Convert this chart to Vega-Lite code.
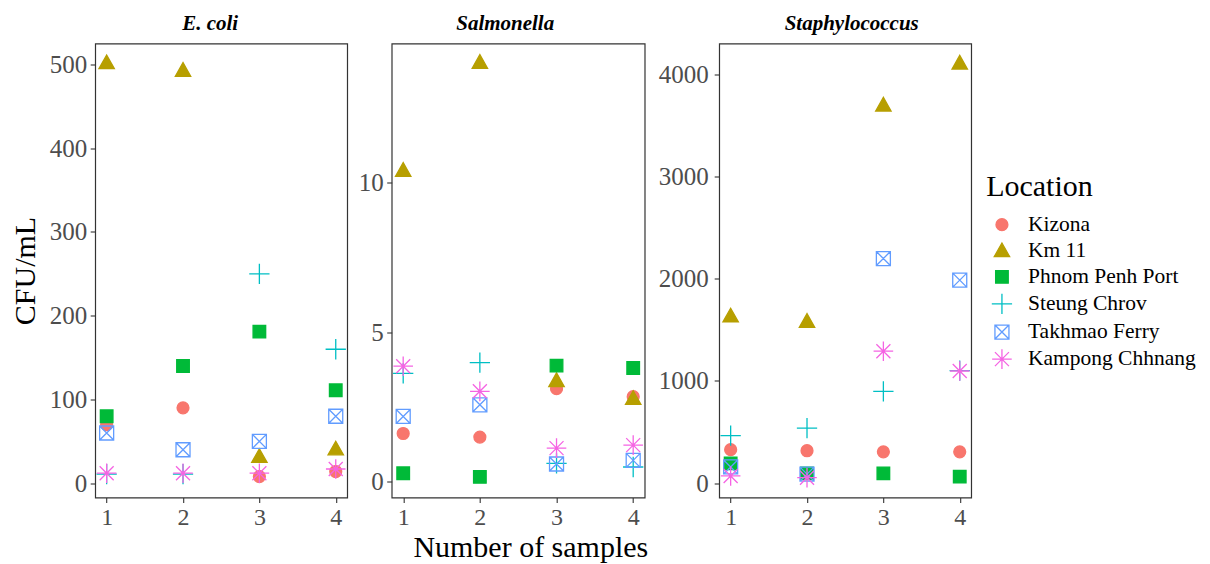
{
  "$schema": "https://vega.github.io/schema/vega-lite/v6.json",
  "background": "white",
  "padding": {"left": 9.2, "top": 11.5, "right": 5, "bottom": 0},
  "spacing": 8.5,
  "config": {
    "font": "Liberation Serif",
    "view": {"stroke": "#333333", "strokeWidth": 1.2},
    "axis": {"grid": false, "domain": false, "tickColor": "#333333", "tickSize": 5, "tickWidth": 1.1, "labelColor": "#4D4D4D", "labelFont": "Liberation Serif", "titleFont": "Liberation Serif", "titleColor": "black", "titleFontWeight": "normal"},
    "legend": {"titleFontSize": 30, "titleFont": "Liberation Serif", "titleFontWeight": "normal", "titleColor": "black", "titlePadding": 12, "labelFontSize": 21.5, "labelColor": "black", "labelFont": "Liberation Serif", "labelLimit": 400, "symbolSize": 196, "symbolStrokeWidth": 1.3, "rowPadding": 3.1, "labelOffset": 15.3, "symbolOffset": 5}
  },
  "data": {"values": [
    {"Organism": "E. coli", "Location": "Kizona", "Sample": 1, "CFU": 70},
    {"Organism": "E. coli", "Location": "Kizona", "Sample": 2, "CFU": 90},
    {"Organism": "E. coli", "Location": "Kizona", "Sample": 3, "CFU": 8},
    {"Organism": "E. coli", "Location": "Kizona", "Sample": 4, "CFU": 14},
    {"Organism": "E. coli", "Location": "Km 11", "Sample": 1, "CFU": 502},
    {"Organism": "E. coli", "Location": "Km 11", "Sample": 2, "CFU": 493},
    {"Organism": "E. coli", "Location": "Km 11", "Sample": 3, "CFU": 32},
    {"Organism": "E. coli", "Location": "Km 11", "Sample": 4, "CFU": 41},
    {"Organism": "E. coli", "Location": "Phnom Penh Port", "Sample": 1, "CFU": 80},
    {"Organism": "E. coli", "Location": "Phnom Penh Port", "Sample": 2, "CFU": 140},
    {"Organism": "E. coli", "Location": "Phnom Penh Port", "Sample": 3, "CFU": 181},
    {"Organism": "E. coli", "Location": "Phnom Penh Port", "Sample": 4, "CFU": 111},
    {"Organism": "E. coli", "Location": "Steung Chrov", "Sample": 1, "CFU": 11},
    {"Organism": "E. coli", "Location": "Steung Chrov", "Sample": 2, "CFU": 11},
    {"Organism": "E. coli", "Location": "Steung Chrov", "Sample": 3, "CFU": 250},
    {"Organism": "E. coli", "Location": "Steung Chrov", "Sample": 4, "CFU": 160},
    {"Organism": "E. coli", "Location": "Takhmao Ferry", "Sample": 1, "CFU": 60},
    {"Organism": "E. coli", "Location": "Takhmao Ferry", "Sample": 2, "CFU": 40},
    {"Organism": "E. coli", "Location": "Takhmao Ferry", "Sample": 3, "CFU": 50},
    {"Organism": "E. coli", "Location": "Takhmao Ferry", "Sample": 4, "CFU": 80},
    {"Organism": "E. coli", "Location": "Kampong Chhnang", "Sample": 1, "CFU": 12},
    {"Organism": "E. coli", "Location": "Kampong Chhnang", "Sample": 2, "CFU": 12},
    {"Organism": "E. coli", "Location": "Kampong Chhnang", "Sample": 3, "CFU": 12},
    {"Organism": "E. coli", "Location": "Kampong Chhnang", "Sample": 4, "CFU": 17},
    {"Organism": "Salmonella", "Location": "Kizona", "Sample": 1, "CFU": 1.62},
    {"Organism": "Salmonella", "Location": "Kizona", "Sample": 2, "CFU": 1.5},
    {"Organism": "Salmonella", "Location": "Kizona", "Sample": 3, "CFU": 3.12},
    {"Organism": "Salmonella", "Location": "Kizona", "Sample": 4, "CFU": 2.85},
    {"Organism": "Salmonella", "Location": "Km 11", "Sample": 1, "CFU": 10.42},
    {"Organism": "Salmonella", "Location": "Km 11", "Sample": 2, "CFU": 14.03},
    {"Organism": "Salmonella", "Location": "Km 11", "Sample": 3, "CFU": 3.39},
    {"Organism": "Salmonella", "Location": "Km 11", "Sample": 4, "CFU": 2.79},
    {"Organism": "Salmonella", "Location": "Phnom Penh Port", "Sample": 1, "CFU": 0.29},
    {"Organism": "Salmonella", "Location": "Phnom Penh Port", "Sample": 2, "CFU": 0.17},
    {"Organism": "Salmonella", "Location": "Phnom Penh Port", "Sample": 3, "CFU": 3.89},
    {"Organism": "Salmonella", "Location": "Phnom Penh Port", "Sample": 4, "CFU": 3.81},
    {"Organism": "Salmonella", "Location": "Steung Chrov", "Sample": 1, "CFU": 3.63},
    {"Organism": "Salmonella", "Location": "Steung Chrov", "Sample": 2, "CFU": 3.99},
    {"Organism": "Salmonella", "Location": "Steung Chrov", "Sample": 3, "CFU": 0.62},
    {"Organism": "Salmonella", "Location": "Steung Chrov", "Sample": 4, "CFU": 0.5},
    {"Organism": "Salmonella", "Location": "Takhmao Ferry", "Sample": 1, "CFU": 2.19},
    {"Organism": "Salmonella", "Location": "Takhmao Ferry", "Sample": 2, "CFU": 2.58},
    {"Organism": "Salmonella", "Location": "Takhmao Ferry", "Sample": 3, "CFU": 0.6},
    {"Organism": "Salmonella", "Location": "Takhmao Ferry", "Sample": 4, "CFU": 0.72},
    {"Organism": "Salmonella", "Location": "Kampong Chhnang", "Sample": 1, "CFU": 3.87},
    {"Organism": "Salmonella", "Location": "Kampong Chhnang", "Sample": 2, "CFU": 3.03},
    {"Organism": "Salmonella", "Location": "Kampong Chhnang", "Sample": 3, "CFU": 1.13},
    {"Organism": "Salmonella", "Location": "Kampong Chhnang", "Sample": 4, "CFU": 1.23},
    {"Organism": "Staphylococcus", "Location": "Kizona", "Sample": 1, "CFU": 327},
    {"Organism": "Staphylococcus", "Location": "Kizona", "Sample": 2, "CFU": 317},
    {"Organism": "Staphylococcus", "Location": "Kizona", "Sample": 3, "CFU": 306},
    {"Organism": "Staphylococcus", "Location": "Kizona", "Sample": 4, "CFU": 306},
    {"Organism": "Staphylococcus", "Location": "Km 11", "Sample": 1, "CFU": 1636},
    {"Organism": "Staphylococcus", "Location": "Km 11", "Sample": 2, "CFU": 1583},
    {"Organism": "Staphylococcus", "Location": "Km 11", "Sample": 3, "CFU": 3700},
    {"Organism": "Staphylococcus", "Location": "Km 11", "Sample": 4, "CFU": 4111},
    {"Organism": "Staphylococcus", "Location": "Phnom Penh Port", "Sample": 1, "CFU": 193},
    {"Organism": "Staphylococcus", "Location": "Phnom Penh Port", "Sample": 2, "CFU": 95},
    {"Organism": "Staphylococcus", "Location": "Phnom Penh Port", "Sample": 3, "CFU": 95},
    {"Organism": "Staphylococcus", "Location": "Phnom Penh Port", "Sample": 4, "CFU": 63},
    {"Organism": "Staphylococcus", "Location": "Steung Chrov", "Sample": 1, "CFU": 464},
    {"Organism": "Staphylococcus", "Location": "Steung Chrov", "Sample": 2, "CFU": 538},
    {"Organism": "Staphylococcus", "Location": "Steung Chrov", "Sample": 3, "CFU": 897},
    {"Organism": "Staphylococcus", "Location": "Steung Chrov", "Sample": 4, "CFU": 1100},
    {"Organism": "Staphylococcus", "Location": "Takhmao Ferry", "Sample": 1, "CFU": 158},
    {"Organism": "Staphylococcus", "Location": "Takhmao Ferry", "Sample": 2, "CFU": 88},
    {"Organism": "Staphylococcus", "Location": "Takhmao Ferry", "Sample": 3, "CFU": 2198},
    {"Organism": "Staphylococcus", "Location": "Takhmao Ferry", "Sample": 4, "CFU": 1987},
    {"Organism": "Staphylococcus", "Location": "Kampong Chhnang", "Sample": 1, "CFU": 70},
    {"Organism": "Staphylococcus", "Location": "Kampong Chhnang", "Sample": 2, "CFU": 53},
    {"Organism": "Staphylococcus", "Location": "Kampong Chhnang", "Sample": 3, "CFU": 1291},
    {"Organism": "Staphylococcus", "Location": "Kampong Chhnang", "Sample": 4, "CFU": 1097}
  ]},
  "hconcat": [
    {
      "width": 252, "height": 454,
      "title": {"text": "E. coli", "font": "Liberation Serif", "fontStyle": "italic", "fontWeight": "bold", "fontSize": 21, "color": "black", "frame": "group", "anchor": "middle", "baseline": "alphabetic", "offset": -7.4, "dx": -11},
      "transform": [{"filter": "datum.Organism === 'E. coli'"}],
      "mark": {"type": "point", "filled": true, "opacity": 1, "strokeWidth": 1.3, "size": 196},
      "encoding": {
        "x": {"field": "Sample", "type": "quantitative", "scale": {"domain": [0.85, 4.15], "nice": false, "zero": false}, "axis": {"values": [1, 2, 3, 4], "format": "d", "title": null, "labelFontSize": 24, "labelPadding": 3}},
        "y": {"field": "CFU", "type": "quantitative", "scale": {"domain": [-17, 525], "nice": false, "zero": false}, "axis": {"values": [0, 100, 200, 300, 400, 500], "format": "d", "title": "CFU/mL", "titleFontSize": 30, "titlePadding": 9, "labelFontSize": 25, "labelPadding": 3.4}},
        "shape": {"field": "Location", "type": "nominal", "scale": {"domain": ["Kizona", "Km 11", "Phnom Penh Port", "Steung Chrov", "Takhmao Ferry", "Kampong Chhnang"], "range": ["M-0.85,0A0.85,0.85,0,1,0,0.85,0A0.85,0.85,0,1,0,-0.85,0Z", "M0,-1.1L1.1,0.85L-1.1,0.85Z", "M-0.9,-0.9H0.9V0.9H-0.9Z", "M-1.45,0H1.45M0,-1.45V1.45", "M-1,-1H1V1H-1ZM-1,-1L1,1M-1,1L1,-1", "M-1.4,0H1.4M0,-1.4V1.4M-1,-1L1,1M-1,1L1,-1"]}, "legend": {"orient": "none", "legendX": 891, "legendY": 128.4}},
        "stroke": {"field": "Location", "type": "nominal", "scale": {"domain": ["Kizona", "Km 11", "Phnom Penh Port", "Steung Chrov", "Takhmao Ferry", "Kampong Chhnang"], "range": ["#F8766D", "#B79F00", "#00BA38", "#00BFC4", "#619CFF", "#F564E3"]}, "legend": {"orient": "none", "legendX": 891, "legendY": 128.4}},
        "fill": {"field": "Location", "type": "nominal", "scale": {"domain": ["Kizona", "Km 11", "Phnom Penh Port", "Steung Chrov", "Takhmao Ferry", "Kampong Chhnang"], "range": ["#F8766D", "#B79F00", "#00BA38", "transparent", "transparent", "transparent"]}, "legend": {"orient": "none", "legendX": 891, "legendY": 128.4}}
      }
    },
    {
      "width": 253, "height": 454,
      "title": {"text": "Salmonella", "font": "Liberation Serif", "fontStyle": "italic", "fontWeight": "bold", "fontSize": 21, "color": "black", "frame": "group", "anchor": "middle", "baseline": "alphabetic", "offset": -7.4, "dx": -13},
      "transform": [{"filter": "datum.Organism === 'Salmonella'"}],
      "mark": {"type": "point", "filled": true, "opacity": 1, "strokeWidth": 1.3, "size": 196},
      "encoding": {
        "x": {"field": "Sample", "type": "quantitative", "scale": {"domain": [0.85, 4.15], "nice": false, "zero": false}, "axis": {"values": [1, 2, 3, 4], "format": "d", "title": "Number of samples", "titleFontSize": 30, "titleX": 138.6, "titleY": 59.5, "titleAlign": "center", "titleBaseline": "alphabetic", "labelFontSize": 24, "labelPadding": 3}},
        "y": {"field": "CFU", "type": "quantitative", "scale": {"domain": [-0.52, 14.66], "nice": false, "zero": false}, "axis": {"values": [0, 5, 10], "format": "d", "title": null, "labelFontSize": 25, "labelPadding": 3.4}},
        "shape": {"field": "Location", "type": "nominal", "scale": {"domain": ["Kizona", "Km 11", "Phnom Penh Port", "Steung Chrov", "Takhmao Ferry", "Kampong Chhnang"], "range": ["M-0.85,0A0.85,0.85,0,1,0,0.85,0A0.85,0.85,0,1,0,-0.85,0Z", "M0,-1.1L1.1,0.85L-1.1,0.85Z", "M-0.9,-0.9H0.9V0.9H-0.9Z", "M-1.45,0H1.45M0,-1.45V1.45", "M-1,-1H1V1H-1ZM-1,-1L1,1M-1,1L1,-1", "M-1.4,0H1.4M0,-1.4V1.4M-1,-1L1,1M-1,1L1,-1"]}, "legend": {"orient": "none", "legendX": 891, "legendY": 128.4}},
        "stroke": {"field": "Location", "type": "nominal", "scale": {"domain": ["Kizona", "Km 11", "Phnom Penh Port", "Steung Chrov", "Takhmao Ferry", "Kampong Chhnang"], "range": ["#F8766D", "#B79F00", "#00BA38", "#00BFC4", "#619CFF", "#F564E3"]}, "legend": {"orient": "none", "legendX": 891, "legendY": 128.4}},
        "fill": {"field": "Location", "type": "nominal", "scale": {"domain": ["Kizona", "Km 11", "Phnom Penh Port", "Steung Chrov", "Takhmao Ferry", "Kampong Chhnang"], "range": ["#F8766D", "#B79F00", "#00BA38", "transparent", "transparent", "transparent"]}, "legend": {"orient": "none", "legendX": 891, "legendY": 128.4}}
      }
    },
    {
      "width": 252, "height": 454,
      "title": {"text": "Staphylococcus", "font": "Liberation Serif", "fontStyle": "italic", "fontWeight": "bold", "fontSize": 21, "color": "black", "frame": "group", "anchor": "middle", "baseline": "alphabetic", "offset": -7.4, "dx": 6.5},
      "transform": [{"filter": "datum.Organism === 'Staphylococcus'"}],
      "mark": {"type": "point", "filled": true, "opacity": 1, "strokeWidth": 1.3, "size": 196},
      "encoding": {
        "x": {"field": "Sample", "type": "quantitative", "scale": {"domain": [0.85, 4.15], "nice": false, "zero": false}, "axis": {"values": [1, 2, 3, 4], "format": "d", "title": null, "labelFontSize": 24, "labelPadding": 3}},
        "y": {"field": "CFU", "type": "quantitative", "scale": {"domain": [-141, 4303], "nice": false, "zero": false}, "axis": {"values": [0, 1000, 2000, 3000, 4000], "format": "d", "title": null, "labelFontSize": 25, "labelPadding": 5.9}},
        "shape": {"field": "Location", "type": "nominal", "scale": {"domain": ["Kizona", "Km 11", "Phnom Penh Port", "Steung Chrov", "Takhmao Ferry", "Kampong Chhnang"], "range": ["M-0.85,0A0.85,0.85,0,1,0,0.85,0A0.85,0.85,0,1,0,-0.85,0Z", "M0,-1.1L1.1,0.85L-1.1,0.85Z", "M-0.9,-0.9H0.9V0.9H-0.9Z", "M-1.45,0H1.45M0,-1.45V1.45", "M-1,-1H1V1H-1ZM-1,-1L1,1M-1,1L1,-1", "M-1.4,0H1.4M0,-1.4V1.4M-1,-1L1,1M-1,1L1,-1"]}, "legend": {"orient": "none", "legendX": 891, "legendY": 128.4}},
        "stroke": {"field": "Location", "type": "nominal", "scale": {"domain": ["Kizona", "Km 11", "Phnom Penh Port", "Steung Chrov", "Takhmao Ferry", "Kampong Chhnang"], "range": ["#F8766D", "#B79F00", "#00BA38", "#00BFC4", "#619CFF", "#F564E3"]}, "legend": {"orient": "none", "legendX": 891, "legendY": 128.4}},
        "fill": {"field": "Location", "type": "nominal", "scale": {"domain": ["Kizona", "Km 11", "Phnom Penh Port", "Steung Chrov", "Takhmao Ferry", "Kampong Chhnang"], "range": ["#F8766D", "#B79F00", "#00BA38", "transparent", "transparent", "transparent"]}, "legend": {"orient": "none", "legendX": 891, "legendY": 128.4}}
      }
    }
  ]
}
